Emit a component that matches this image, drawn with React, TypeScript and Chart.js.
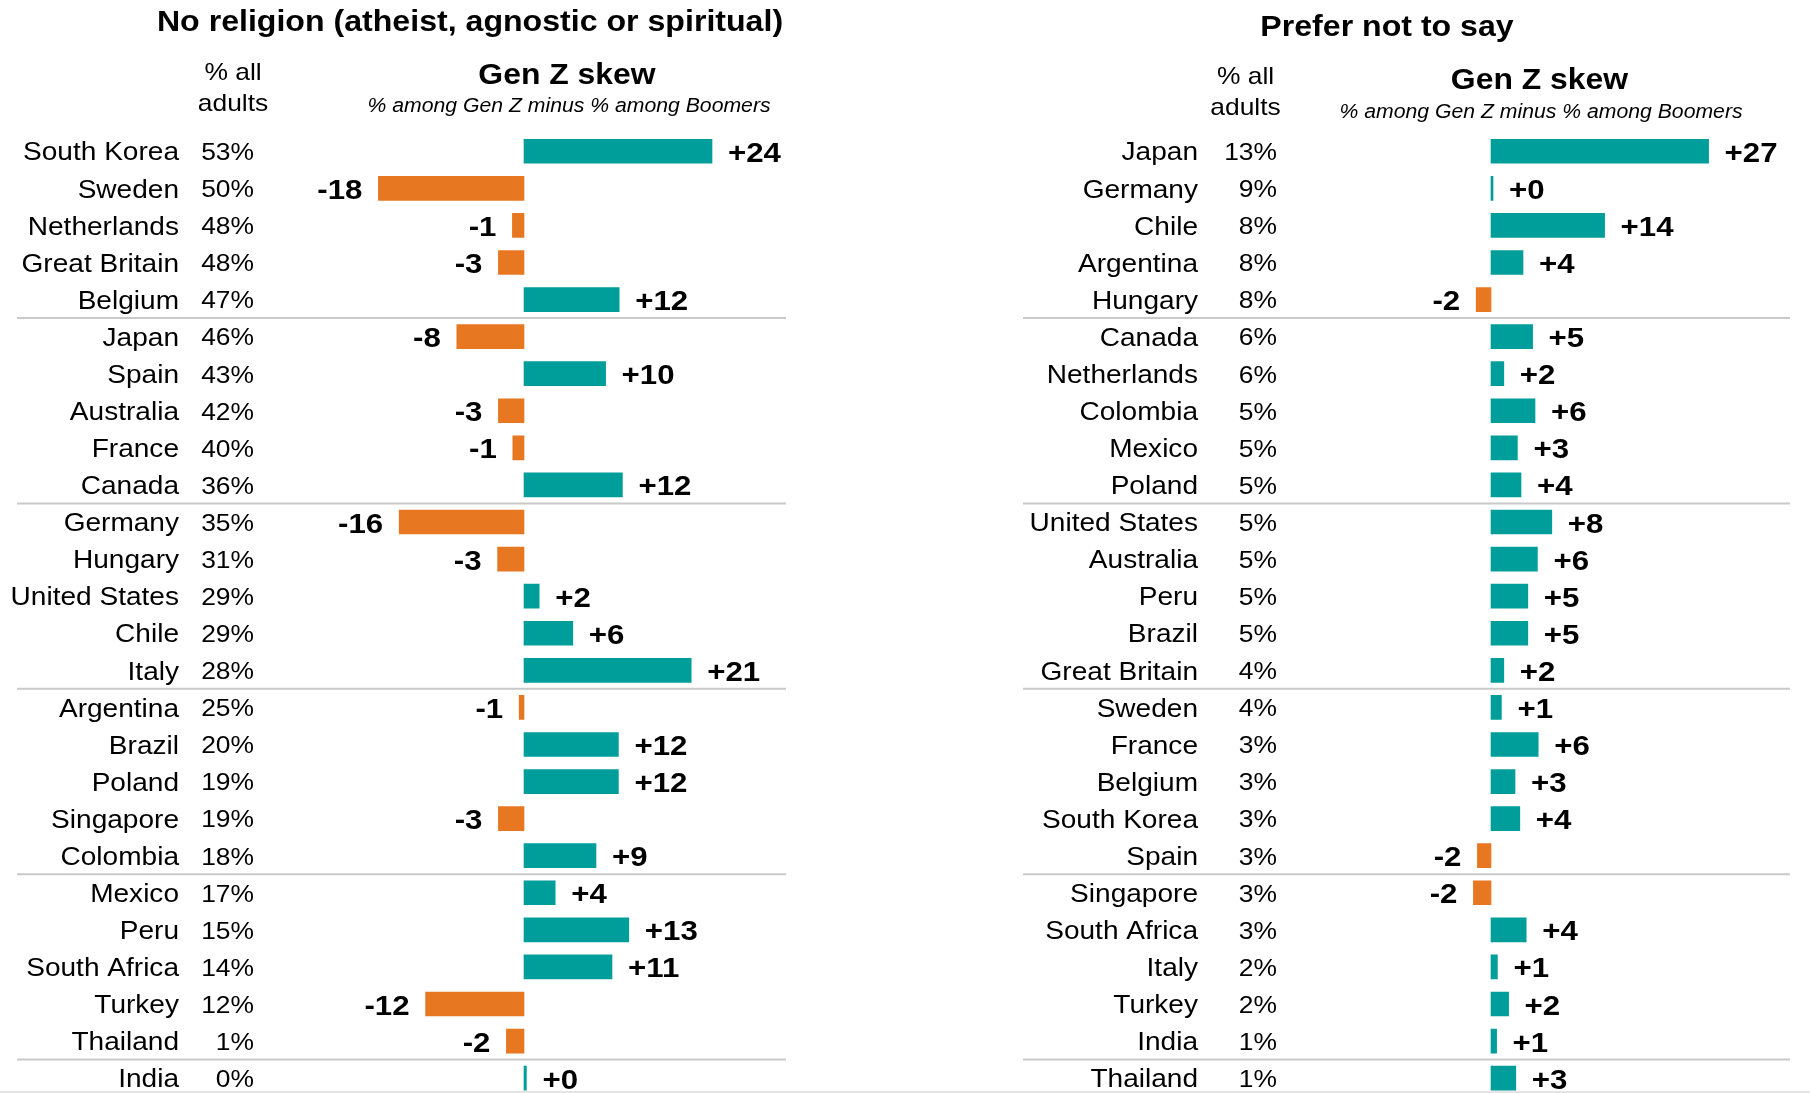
import React, { useEffect, useRef } from "react";
import { Chart, registerables } from "chart.js";

Chart.register(...registerables);

// ---------------- DATA ----------------
const leftCountries = [
  "South Korea", "Sweden", "Netherlands", "Great Britain", "Belgium",
  "Japan", "Spain", "Australia", "France", "Canada",
  "Germany", "Hungary", "United States", "Chile", "Italy",
  "Argentina", "Brazil", "Poland", "Singapore", "Colombia",
  "Mexico", "Peru", "South Africa", "Turkey", "Thailand",
  "India",
];
const leftAllAdults = [53, 50, 48, 48, 47, 46, 43, 42, 40, 36, 35, 31, 29, 29, 28, 25, 20, 19, 19, 18, 17, 15, 14, 12, 1, 0];
// bar lengths and the printed labels
const leftSkew = [23.5, -18.2, -1.45, -3.2, 11.9, -8.4, 10.2, -3.2, -1.4, 12.3, -15.6, -3.3, 1.9, 6.1, 20.9, -0.6, 11.8, 11.8, -3.2, 9.0, 3.9, 13.1, 11.0, -12.3, -2.2, 0.3];
const leftSkewLabels = ["+24", "-18", "-1", "-3", "+12", "-8", "+10", "-3", "-1", "+12", "-16", "-3", "+2", "+6", "+21", "-1", "+12", "+12", "-3", "+9", "+4", "+13", "+11", "-12", "-2", "+0"];

const rightCountries = [
  "Japan", "Germany", "Chile", "Argentina", "Hungary",
  "Canada", "Netherlands", "Colombia", "Mexico", "Poland",
  "United States", "Australia", "Peru", "Brazil", "Great Britain",
  "Sweden", "France", "Belgium", "South Korea", "Spain",
  "Singapore", "South Africa", "Italy", "Turkey", "India",
  "Thailand",
];
const rightAllAdults = [13, 9, 8, 8, 8, 6, 6, 5, 5, 5, 5, 5, 5, 5, 4, 4, 3, 3, 3, 3, 3, 3, 2, 2, 1, 1];
const rightSkew = [27.2, 0.2, 14.2, 4.0, -1.85, 5.2, 1.6, 5.5, 3.3, 3.75, 7.6, 5.8, 4.6, 4.6, 1.6, 1.3, 5.9, 3.0, 3.6, -1.7, -2.2, 4.4, 0.8, 2.2, 0.7, 3.1];
const rightSkewLabels = ["+27", "+0", "+14", "+4", "-2", "+5", "+2", "+6", "+3", "+4", "+8", "+6", "+5", "+5", "+2", "+1", "+6", "+3", "+4", "-2", "-2", "+4", "+1", "+2", "+1", "+3"];

const leftTitle = "No religion (atheist, agnostic or spiritual)";
const rightTitle = "Prefer not to say";
const colHeadLines = ["% all", "adults"];
const skewHead = "Gen Z skew";
const skewSub = "% among Gen Z minus % among Boomers";

// ---------------- STYLE ----------------
const TEAL = "#009E9A";
const ORANGE = "#E87722";
const FAMILY = '"Liberation Sans", Arial, Helvetica, sans-serif';
const SX = 1.1; // horizontal stretch of the reference's lettering
const PANEL_W = 905;
const CANVAS_H = 1110;
const ROW_DY = 2.2;

type Panel = {
  countries: string[];
  allAdults: number[];
  skew: number[];
  skewLabels: string[];
  title: string;
  layout: {
    titleX: number; titleY: number;
    headX: number; headY1: number; headY2: number;
    genzX: number; genzY: number; subX: number; subY: number;
    nameRight: number; pctRight: number;
    sepLeft: number; sepRight: number;
    xMin: number; xMax: number; padLeft: number; padRight: number;
  };
};

function drawText(ctx: CanvasRenderingContext2D, s: string, x: number, y: number, font: string, align: CanvasTextAlign) {
  ctx.save();
  ctx.font = font;
  ctx.textAlign = align;
  ctx.textBaseline = "middle";
  ctx.fillStyle = "#000";
  ctx.translate(x, y);
  ctx.scale(SX, 1);
  ctx.fillText(s, 0, 0);
  ctx.restore();
}

function makeTextPlugin(p: Panel) {
  return {
    id: "panelText",
    afterDraw(chart: any) {
      const ctx: CanvasRenderingContext2D = chart.ctx;
      const L = p.layout;
      const y = chart.scales.y;
      const x = chart.scales.x;
      // headers
      drawText(ctx, p.title, L.titleX, L.titleY, `bold 29.2px ${FAMILY}`, "center");
      drawText(ctx, colHeadLines[0], L.headX, L.headY1, `24px ${FAMILY}`, "center");
      drawText(ctx, colHeadLines[1], L.headX, L.headY2, `24px ${FAMILY}`, "center");
      drawText(ctx, skewHead, L.genzX, L.genzY, `bold 29px ${FAMILY}`, "center");
      drawText(ctx, skewSub, L.subX, L.subY, `italic 19.3px ${FAMILY}`, "center");

      // separators every five rows
      ctx.save();
      ctx.strokeStyle = "#c9c9c9";
      ctx.lineWidth = 2;
      for (let i = 4; i < p.countries.length - 1; i += 5) {
        const yy = (y.getPixelForValue(i) + y.getPixelForValue(i + 1)) / 2;
        ctx.beginPath();
        ctx.moveTo(L.sepLeft, yy);
        ctx.lineTo(L.sepRight, yy);
        ctx.stroke();
      }
      ctx.strokeStyle = "#e4e4e4";
      ctx.beginPath();
      ctx.moveTo(0, 1092);
      ctx.lineTo(PANEL_W, 1092);
      ctx.stroke();
      ctx.restore();

      const meta = chart.getDatasetMeta(0);
      p.countries.forEach((c, i) => {
        const yy = y.getPixelForValue(i) + ROW_DY;
        drawText(ctx, c, L.nameRight, yy, `25.5px ${FAMILY}`, "right");
        drawText(ctx, `${p.allAdults[i]}%`, L.pctRight, yy, `24px ${FAMILY}`, "right");
        const el = meta.data[i];
        const zero = x.getPixelForValue(0);
        const v = p.skew[i];
        if (v >= 0) {
          const end = Math.max(el.x, el.base);
          drawText(ctx, p.skewLabels[i], end + 16, yy + 0.5, `bold 28.4px ${FAMILY}`, "left");
        } else {
          const start = Math.min(el.x, el.base, zero);
          drawText(ctx, p.skewLabels[i], start - 16, yy + 0.5, `bold 28.4px ${FAMILY}`, "right");
        }
      });
    },
  };
}

function PanelChart({ panel, left }: { panel: Panel; left: number }) {
  const ref = useRef<HTMLCanvasElement | null>(null);
  useEffect(() => {
    if (!ref.current) return;
    const L = panel.layout;
    const chart = new Chart(ref.current, {
      type: "bar",
      data: {
        labels: panel.countries,
        datasets: [
          {
            data: panel.skew,
            backgroundColor: panel.skew.map((v) => (v < 0 ? ORANGE : TEAL)),
            barThickness: 24,
            minBarLength: 2,
            borderWidth: 0,
          },
        ],
      },
      options: {
        indexAxis: "y",
        animation: false,
        responsive: false,
        maintainAspectRatio: false,
        devicePixelRatio: 1,
        layout: { padding: { left: L.padLeft, right: L.padRight, top: 132.7, bottom: CANVAS_H - 1096.7 } },
        scales: {
          x: { min: L.xMin, max: L.xMax, display: false },
          y: { display: false },
        },
        plugins: { legend: { display: false }, tooltip: { enabled: false }, title: { display: false } },
      },
      plugins: [makeTextPlugin(panel)],
    } as any);
    return () => chart.destroy();
  }, [panel]);
  return (
    <canvas
      ref={ref}
      width={PANEL_W}
      height={CANVAS_H}
      style={{ position: "absolute", left, top: 0, width: PANEL_W, height: CANVAS_H }}
    />
  );
}

const leftPanel: Panel = {
  countries: leftCountries,
  allAdults: leftAllAdults,
  skew: leftSkew,
  skewLabels: leftSkewLabels,
  title: leftTitle,
  layout: {
    titleX: 470, titleY: 23,
    headX: 233, headY1: 73, headY2: 104,
    genzX: 567, genzY: 76, subX: 569, subY: 106.5,
    nameRight: 179, pctRight: 254,
    sepLeft: 17, sepRight: 786,
    xMin: -25, xMax: 35, padLeft: 324, padRight: PANEL_W - 804,
  },
};

const rightPanel: Panel = {
  countries: rightCountries,
  allAdults: rightAllAdults,
  skew: rightSkew,
  skewLabels: rightSkewLabels,
  title: rightTitle,
  layout: {
    titleX: 482, titleY: 28,
    headX: 340.5, headY1: 77.5, headY2: 108.5,
    genzX: 634.5, genzY: 81, subX: 636, subY: 112.5,
    nameRight: 293, pctRight: 372,
    sepLeft: 118, sepRight: 885,
    xMin: -10, xMax: 30, padLeft: 506, padRight: PANEL_W - 826,
  },
};

export default function App() {
  return (
    <div style={{ position: "relative", width: 1810, height: 1093, overflow: "hidden", background: "#fff" }}>
      <style>{`html,body{margin:0;padding:0;overflow:hidden;background:#fff}`}</style>
      <PanelChart panel={leftPanel} left={0} />
      <PanelChart panel={rightPanel} left={PANEL_W} />
    </div>
  );
}
